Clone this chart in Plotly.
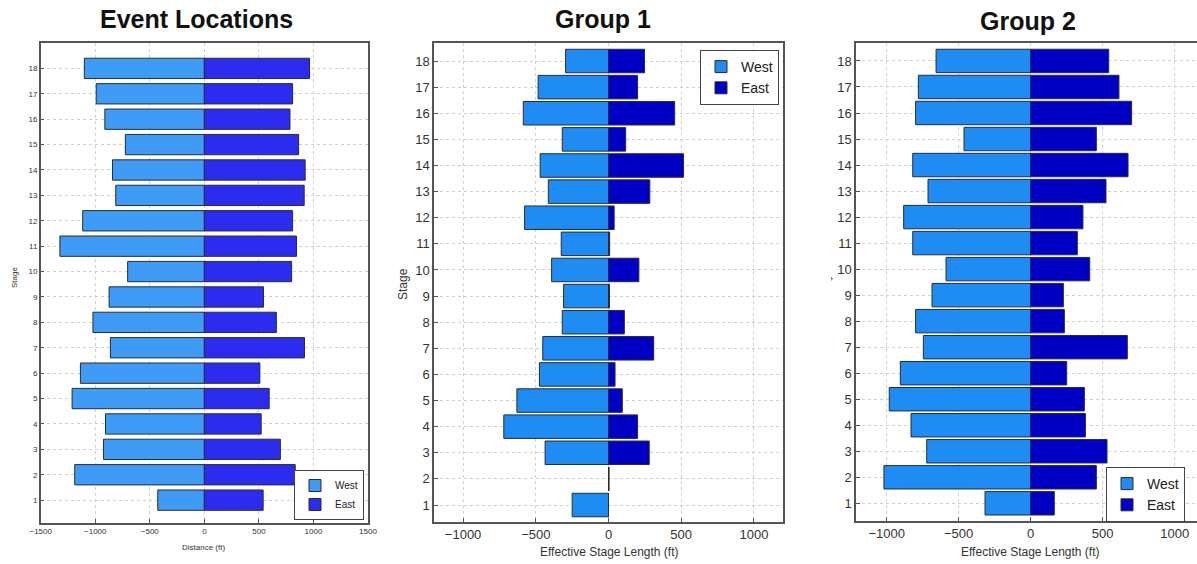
import plotly.graph_objects as go

stages = list(range(1, 19))

# Event Locations (Distance, ft)
ev_west = [427, 1188, 924, 906, 1212, 1136, 861, 1021, 873, 703, 1324, 1115, 812, 842, 724, 912, 991, 1100]
ev_east = [539, 833, 697, 521, 594, 509, 918, 660, 542, 800, 845, 809, 915, 924, 864, 785, 809, 964]

# Group 1 (Effective Stage Length, ft)
g1_west = [250, 0, 436, 720, 630, 475, 452, 318, 309, 391, 325, 577, 414, 470, 318, 586, 484, 295]
g1_east = [0, 4, 280, 200, 95, 45, 311, 109, 7, 209, 8, 39, 284, 516, 118, 455, 200, 248]

# Group 2 (Effective Stage Length, ft)
g2_west = [317, 1019, 722, 831, 982, 905, 745, 799, 685, 588, 819, 882, 713, 819, 463, 799, 780, 657]
g2_east = [164, 456, 530, 380, 373, 250, 671, 234, 227, 410, 324, 363, 523, 676, 456, 701, 613, 542]

titles = ["Event Locations", "Group 1", "Group 2"]
series_names = ["West", "East"]
x_titles = ["Distance (ft)", "Effective Stage Length (ft)", "Effective Stage Length (ft)"]

W, H = 1197, 564
def px(x):
    return x / W
def py(y):
    return 1 - y / H

fig = go.Figure()

panels = [
    dict(west=ev_west, east=ev_east, cw="#3f9cf6", ce="#2c2cf0", width=0.8,
         xa="x", ya="y", legend="legend"),
    dict(west=g1_west, east=g1_east, cw="#1f8cf4", ce="#0000c4", width=0.9,
         xa="x2", ya="y2", legend="legend2"),
    dict(west=g2_west, east=g2_east, cw="#1f8cf4", ce="#0000c4", width=0.9,
         xa="x3", ya="y3", legend="legend3"),
]

for p in panels:
    fig.add_trace(go.Bar(
        y=stages, x=[-v for v in p["west"]], orientation="h", name=series_names[0],
        width=p["width"], marker=dict(color=p["cw"], line=dict(color="#2a2a3a", width=1)),
        xaxis=p["xa"], yaxis=p["ya"], legend=p["legend"], hoverinfo="skip"))
    fig.add_trace(go.Bar(
        y=stages, x=p["east"], orientation="h", name=series_names[1],
        width=p["width"], marker=dict(color=p["ce"], line=dict(color="#2a2a3a", width=1)),
        xaxis=p["xa"], yaxis=p["ya"], legend=p["legend"], hoverinfo="skip"))

grid = dict(showgrid=True, gridcolor="#d0d0d0", griddash="dot", gridwidth=1,
            zeroline=False, linecolor="#555555", linewidth=1.5, showline=True,
            ticks="inside", ticklen=4, tickcolor="#555555", automargin=False)

fig.update_layout(
    width=W, height=H, margin=dict(l=0, r=0, t=0, b=0, autoexpand=False),
    paper_bgcolor="white", plot_bgcolor="white", barmode="overlay",
    font=dict(family="Liberation Sans, Arial, sans-serif", color="#333333"),
    xaxis=dict(domain=[px(40.7), px(368)], range=[-1500, 1500], tickvals=[-1500, -1000, -500, 0, 500, 1000, 1500],
               tickfont=dict(size=8), anchor="y", mirror=True, **grid),
    yaxis=dict(domain=[py(523), py(43)], range=[0.1, 19.0], tickvals=stages,
               tickfont=dict(size=8), anchor="x", mirror=True, **grid),
    xaxis2=dict(domain=[px(434), px(783)], range=[-1200, 1200], tickvals=[-1000, -500, 0, 500, 1000],
                tickfont=dict(size=13), anchor="y2", mirror=True, **grid),
    yaxis2=dict(domain=[py(522), py(43)], range=[0.35, 18.69], tickvals=stages,
                tickfont=dict(size=13), anchor="x2", mirror=True, **grid),
    xaxis3=dict(domain=[px(856), 1.0], range=[-1213, 1155], tickvals=[-1000, -500, 0, 500, 1000],
                tickfont=dict(size=13), anchor="y3", mirror=True, **grid),
    yaxis3=dict(domain=[py(521), py(43)], range=[0.32, 18.69], tickvals=stages,
                tickfont=dict(size=13), anchor="x3", mirror=False, **grid),
    legend=dict(x=px(364), y=py(520), xanchor="right", yanchor="bottom",
                bgcolor="white", bordercolor="#444444", borderwidth=1,
                font=dict(size=10, color="#222222"), tracegroupgap=0,
                itemwidth=30),
    legend2=dict(x=px(779), y=py(50), xanchor="right", yanchor="top",
                 bgcolor="white", bordercolor="#444444", borderwidth=1,
                 font=dict(size=14, color="#222222"), itemwidth=30),
    legend3=dict(x=px(1106), y=py(467), xanchor="left", yanchor="top",
                 bgcolor="white", bordercolor="#444444", borderwidth=1,
                 font=dict(size=14, color="#222222"), itemwidth=30),
)

annotations = [
    dict(text="<b>%s</b>" % titles[0], x=px(196), y=py(19), font=dict(size=25, color="#111111")),
    dict(text="<b>%s</b>" % titles[1], x=px(603), y=py(19), font=dict(size=25, color="#111111")),
    dict(text="<b>%s</b>" % titles[2], x=px(1028), y=py(21), font=dict(size=25, color="#111111")),
    dict(text=x_titles[0], x=px(203), y=py(547), font=dict(size=8, color="#333333")),
    dict(text=x_titles[1], x=px(609), y=py(552), font=dict(size=12, color="#333333")),
    dict(text=x_titles[2], x=px(1030), y=py(552), font=dict(size=12, color="#333333")),
    dict(text="Stage", x=px(14), y=py(278), textangle=-90, font=dict(size=8, color="#333333")),
    dict(text="Stage", x=px(403), y=py(284), textangle=-90, font=dict(size=12, color="#333333")),
    dict(text=",", x=px(831), y=py(275), font=dict(size=12, color="#333333")),
]
for a in annotations:
    a.update(xref="paper", yref="paper", showarrow=False, xanchor="center", yanchor="middle")
fig.update_layout(annotations=annotations)

fig.write_html("out.html", config={"displayModeBar": False},
               post_script="document.body.style.margin='0';")
